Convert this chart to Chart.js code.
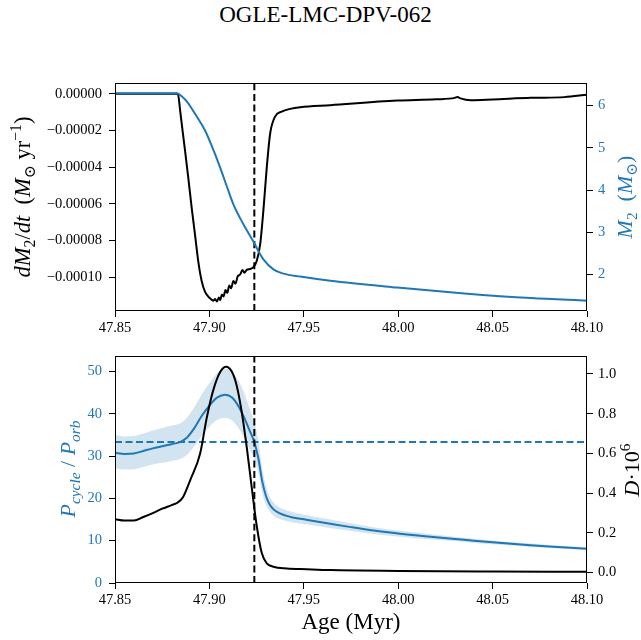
<!DOCTYPE html>
<html><head><meta charset="utf-8">
<script src="https://cdn.jsdelivr.net/npm/chart.js@4"></script>
<style>
body{margin:0;background:#fff;width:641px;height:640px;position:relative;overflow:hidden}
#title{position:absolute;left:0;width:651px;top:3px;text-align:center;font:23px 'Liberation Serif',serif;line-height:23px;color:#000}
canvas{position:absolute;left:0}
#c1{top:0}
#c2{top:340px}
</style></head>
<body>
<div id="title">OGLE-LMC-DPV-062</div>
<canvas id="c1" width="641" height="340"></canvas>
<canvas id="c2" width="641" height="300"></canvas>
<script>
// ---------- data ----------
const xTicks = [47.85, 47.90, 47.95, 48.00, 48.05, 48.10];
const topLeftTicks = [0, -0.00002, -0.00004, -0.00006, -0.00008, -0.00010];
const topRightTicks = [2, 3, 4, 5, 6];
const botLeftTicks = [0, 10, 20, 30, 40, 50];
const botRightTicks = [0, 0.2, 0.4, 0.6, 0.8, 1.0];

const markerAge = 47.9238;      // vertical dashed line
const pcycleLevel = 33.3;       // horizontal dashed line

// mass-transfer rate dM2/dt (Msun/yr)
const dmAge = [47.850, 47.8833, 47.8845, 47.8853, 47.8871, 47.8889, 47.8906, 47.8924, 47.8942, 47.8959, 47.8977,
  47.9004, 47.9022, 47.9030, 47.9040, 47.9050, 47.9057, 47.9066, 47.9075, 47.9085, 47.9095, 47.9105, 47.9115,
  47.9127, 47.9138, 47.9150, 47.9163, 47.9175, 47.9185, 47.9198, 47.9215, 47.9233, 47.9251, 47.9269, 47.9286,
  47.9304, 47.9322, 47.9348, 47.9383, 47.9428, 47.9481, 47.964, 47.9995, 48.020, 48.030, 48.0314, 48.0330,
  48.0384, 48.050, 48.0703, 48.088, 48.100];
const dmRate = [0, 0, -0.9e-5, -1.6e-5, -3.1e-5, -4.65e-5, -6.2e-5, -7.7e-5, -9.2e-5, -10.2e-5, -10.8e-5,
  -11.15e-5, -11.28e-5, -11.18e-5, -11.32e-5, -11.1e-5, -11.25e-5, -10.95e-5, -11.05e-5, -10.7e-5, -10.85e-5, -10.45e-5, -10.6e-5,
  -10.2e-5, -10.35e-5, -9.95e-5, -9.85e-5, -9.6e-5, -9.75e-5, -9.6e-5, -9.55e-5, -9.45e-5, -9.1e-5, -8.2e-5, -6.35e-5,
  -4.0e-5, -2.15e-5, -1.24e-5, -0.97e-5, -0.82e-5, -0.73e-5, -0.62e-5, -0.37e-5, -0.30e-5, -0.22e-5, -0.17e-5, -0.25e-5,
  -0.35e-5, -0.31e-5, -0.22e-5, -0.18e-5, -0.05e-5];

// accretor mass M2 (Msun)
const m2Age = [47.850, 47.8827, 47.8853, 47.8880, 47.8933, 47.8977, 47.9021, 47.9057, 47.9092, 47.9127, 47.9180,
  47.9233, 47.9260, 47.9286, 47.9339, 47.9392, 47.9481, 47.9640, 47.9995, 48.035, 48.0703, 48.100];
const m2Mass = [6.29, 6.29, 6.22, 6.10, 5.74, 5.41, 4.95, 4.53, 4.09, 3.66, 3.19,
  2.78, 2.55, 2.36, 2.12, 2.02, 1.95, 1.85, 1.69, 1.55, 1.44, 1.38];

// P_cycle / P_orb with uncertainty band
const pAge = [47.850, 47.855, 47.860, 47.865, 47.870, 47.875, 47.880, 47.8845, 47.888, 47.892, 47.896, 47.900,
  47.904, 47.9085, 47.912, 47.916, 47.919, 47.9215, 47.9238, 47.926, 47.928, 47.930, 47.932, 47.934, 47.937,
  47.943, 47.952, 47.964, 47.975, 47.987, 48.001, 48.020, 48.035, 48.050, 48.065, 48.080, 48.100];
const pRatio = [30.8, 30.5, 30.6, 31.2, 31.8, 32.3, 32.8, 33.3, 34.3, 36.6, 39.5, 41.9,
  43.8, 44.5, 43.8, 41.3, 38.5, 35.8, 33.3, 29.3, 24.0, 20.5, 18.5, 17.4, 16.5,
  15.6, 14.9, 14.0, 13.2, 12.4, 11.65, 10.8, 10.2, 9.6, 9.1, 8.6, 8.1];
const pLow = [27.1, 26.8, 26.9, 27.4, 28.0, 28.4, 28.8, 29.3, 30.2, 32.3, 34.8, 36.9,
  38.5, 39.0, 38.4, 36.2, 33.7, 31.4, 29.2, 26.0, 21.3, 18.4, 16.9, 15.9, 15.2,
  14.4, 13.8, 13.0, 12.3, 11.6, 10.95, 10.2, 9.7, 9.15, 8.7, 8.25, 7.8];
const pHigh = [35.0, 34.6, 34.7, 35.3, 36.0, 36.6, 37.2, 37.7, 39.0, 41.5, 44.6, 47.2,
  49.5, 50.6, 49.9, 47.3, 44.2, 41.0, 38.0, 33.5, 27.0, 22.8, 20.3, 19.0, 17.9,
  16.9, 16.0, 15.0, 14.1, 13.2, 12.35, 11.4, 10.7, 10.05, 9.5, 9.0, 8.45];

// D * 10^6
const dAge = [47.850, 47.855, 47.860, 47.865, 47.870, 47.875, 47.880, 47.883, 47.886, 47.890, 47.8951, 47.8986,
  47.9021, 47.9057, 47.9088, 47.912, 47.9145, 47.9171, 47.9198, 47.9224, 47.925, 47.9277, 47.9304, 47.9339,
  47.941, 47.9516, 47.964, 48.000, 48.050, 48.100];
const dVal = [0.269, 0.262, 0.262, 0.280, 0.300, 0.322, 0.340, 0.352, 0.38, 0.47, 0.60, 0.78,
  0.92, 1.01, 1.037, 1.01, 0.94, 0.81, 0.63, 0.43, 0.24, 0.10, 0.047, 0.030,
  0.021, 0.017, 0.013, 0.009, 0.006, 0.004];

// axis limits
const xMin = 47.85, xMax = 48.10;
const topLeftMin = -0.0001184, topLeftMax = 0.0000059;
const topRightMin = 1.135, topRightMax = 6.535;
const botLeftMin = 0, botLeftMax = 53.7;
const botRightMin = -0.052, botRightMax = 1.092;

// ---------- style ----------
const BLUE = '#1f77b4';
const FAM = "'Liberation Serif','DejaVu Serif',serif";
const pts = (xs, ys) => xs.map((x, i) => ({x, y: ys[i]}));

function drawRich(ctx, parts, x, y, rot, color, size) {
  ctx.save();
  ctx.translate(x, y);
  ctx.rotate(rot);
  ctx.fillStyle = color;
  ctx.textBaseline = 'alphabetic';
  ctx.textAlign = 'left';
  const fontOf = p => (p.it ? 'italic ' : '') + (p.pos ? size * 0.7 : size) + 'px ' + FAM;
  const widths = [];
  let total = 0;
  parts.forEach(p => { ctx.font = fontOf(p); const w = ctx.measureText(p.t).width; widths.push(w); total += w; });
  let cx = -total / 2;
  parts.forEach((p, i) => {
    ctx.font = fontOf(p);
    const dy = p.pos === 'sub' ? size * 0.22 : p.pos === 'sup' ? -size * 0.4 : 0;
    ctx.fillText(p.t, cx, size * 0.33 + dy);
    cx += widths[i];
  });
  ctx.restore();
}

const decor = {
  id: 'decor',
  afterDraw(chart, args, opts) {
    const ctx = chart.ctx, ca = chart.chartArea;
    ctx.save();
    ctx.strokeStyle = '#000';
    ctx.lineWidth = 1;
    ctx.strokeRect(Math.round(ca.left) + 0.5, Math.round(ca.top) + 0.5,
      Math.round(ca.right - ca.left) - 1, Math.round(ca.bottom - ca.top) - 1);
    ctx.restore();
    (opts.labels || []).forEach(l => drawRich(ctx, l.parts, l.x, l.y, l.rot, l.color, l.size));
  }
};

function xScale(h) {
  return {
    type: 'linear', position: 'bottom', min: xMin, max: xMax,
    afterBuildTicks: s => { s.ticks = xTicks.map(v => ({value: v})); },
    afterFit: s => { s.height = h; },
    ticks: {autoSkip: false, maxRotation: 0, minRotation: 0, padding: 2, color: '#000',
      font: {family: FAM, size: 14.5}, callback: v => Number(v).toFixed(2)},
    grid: {display: true, drawOnChartArea: false, drawTicks: true, tickLength: 6, color: '#000', lineWidth: 1},
    border: {display: false}
  };
}
function yScale(pos, min, max, ticks, fmt, color, w, pad) {
  return {
    type: 'linear', position: pos, min, max,
    afterBuildTicks: s => { s.ticks = ticks.map(v => ({value: v})); },
    afterFit: s => { s.width = w; },
    ticks: {autoSkip: false, padding: pad, color, font: {family: FAM, size: 14.5}, callback: fmt},
    grid: {display: true, drawOnChartArea: false, drawTicks: true, tickLength: 6, color: '#000', lineWidth: 1},
    border: {display: false}
  };
}
const line = (data, yAxisID, color, order, extra) => Object.assign({
  data, yAxisID, borderColor: color, backgroundColor: color, borderWidth: 2, pointRadius: 0,
  cubicInterpolationMode: 'monotone', fill: false, order
}, extra || {});

// ---------- top chart ----------
new Chart(document.getElementById('c1'), {
  type: 'line',
  data: {datasets: [
    line(pts(dmAge, dmRate), 'yL', '#000', 3),
    line(pts([markerAge, markerAge], [topLeftMin, topLeftMax]), 'yL', '#000', 2, {borderDash: [7, 3.5]}),
    line(pts(m2Age, m2Mass), 'yR', BLUE, 1)
  ]},
  options: {
    responsive: false, animation: false, events: [],
    layout: {padding: {top: 83, left: 0, right: 0, bottom: 0}},
    plugins: {legend: {display: false}, tooltip: {enabled: false},
      decor: {labels: [
        {x: 23, y: 197, rot: -Math.PI / 2, color: '#000', size: 22.5, parts: [
          {t: 'dM', it: 1}, {t: '2', pos: 'sub'}, {t: '/', it: 0}, {t: 'dt', it: 1}, {t: '  ('},
          {t: 'M', it: 1}, {t: '\u2299', pos: 'sub'}, {t: ' yr'}, {t: '\u22121', pos: 'sup'}, {t: ')'}]},
        {x: 625, y: 197, rot: -Math.PI / 2, color: BLUE, size: 22, parts: [
          {t: 'M', it: 1}, {t: '2', pos: 'sub'}, {t: '  ('}, {t: 'M', it: 1}, {t: '\u2299', pos: 'sub'}, {t: ')'}]}
      ]}},
    scales: {
      x: xScale(29),
      yL: yScale('left', topLeftMin, topLeftMax, topLeftTicks,
        v => v === 0 ? '0.00000' : (v < 0 ? '\u2212' : '') + Math.abs(v).toFixed(5), '#000', 115, 7),
      yR: yScale('right', topRightMin, topRightMax, topRightTicks, v => String(v), BLUE, 54, 5)
    }
  },
  plugins: [decor]
});

// ---------- bottom chart ----------
new Chart(document.getElementById('c2'), {
  type: 'line',
  data: {datasets: [
    line(pts(pAge, pHigh), 'yL', 'rgba(31,119,180,0)', 6, {fill: '+1', backgroundColor: 'rgba(31,119,180,0.2)', borderWidth: 0}),
    line(pts(pAge, pLow), 'yL', 'rgba(31,119,180,0)', 6, {borderWidth: 0}),
    line(pts(pAge, pRatio), 'yL', BLUE, 4),
    line(pts([xMin, xMax], [pcycleLevel, pcycleLevel]), 'yL', BLUE, 3, {borderDash: [7, 3.5]}),
    line(pts([markerAge, markerAge], [botLeftMin, botLeftMax]), 'yL', '#000', 2, {borderDash: [7, 3.5]}),
    line(pts(dAge, dVal), 'yR', '#000', 1)
  ]},
  options: {
    responsive: false, animation: false, events: [],
    layout: {padding: {top: 15, left: 0, right: 0, bottom: 0}},
    plugins: {legend: {display: false}, tooltip: {enabled: false}, filler: {propagate: false},
      decor: {labels: [
        {x: 68, y: 129, rot: -Math.PI / 2, color: BLUE, size: 22, parts: [
          {t: 'P', it: 1}, {t: 'cycle', it: 1, pos: 'sub'}, {t: ' / '}, {t: 'P', it: 1}, {t: 'orb', it: 1, pos: 'sub'}]},
        {x: 632, y: 130, rot: -Math.PI / 2, color: '#000', size: 22, parts: [
          {t: 'D', it: 1}, {t: '\u00b710'}, {t: '6', pos: 'sup'}]},
        {x: 351, y: 281, rot: 0, color: '#000', size: 23, parts: [{t: 'Age (Myr)'}]}
      ]}},
    scales: {
      x: xScale(57),
      yL: yScale('left', botLeftMin, botLeftMax, botLeftTicks, v => String(v), BLUE, 115, 7),
      yR: yScale('right', botRightMin, botRightMax, botRightTicks, v => Number(v).toFixed(1), '#000', 54, 5)
    }
  },
  plugins: [decor]
});
</script>
</body></html>
